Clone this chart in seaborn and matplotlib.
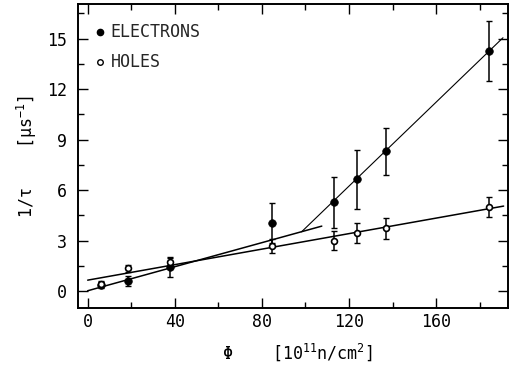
import numpy as np
import pandas as pd
import matplotlib
matplotlib.use("Agg")
import matplotlib.pyplot as plt
import seaborn as sns
from matplotlib.ticker import MultipleLocator

# fluence values [1e11 n/cm2]
fluence_e = [6, 18.5, 38, 84.5, 113, 123.5, 137, 184.5]
fluence_h = [6, 18.5, 38, 84.5, 113, 123.5, 137, 184.5]

# 1/tau [1/us] and errors
inv_tau_e = [0.36, 0.61, 1.45, 4.05, 5.27, 6.63, 8.3, 14.27]
err_e = [0.2, 0.3, 0.6, 1.2, 1.5, 1.75, 1.4, 1.8]
inv_tau_h = [0.45, 1.35, 1.7, 2.67, 2.99, 3.46, 3.72, 5.01]
err_h = [0.15, 0.22, 0.25, 0.42, 0.57, 0.6, 0.6, 0.6]

# fitted straight lines (end points)
fit_e_low_x = [0, 107.5]
fit_e_low_y = [0.02, 3.86]
fit_e_high_x = [98.2, 190.7]
fit_e_high_y = [3.52, 15.05]
fit_h_x = [0, 191]
fit_h_y = [0.65, 5.05]

sns.set_style("ticks")
plt.rcParams["font.family"] = ["DejaVu Sans Mono", "DejaVu Sans"]
plt.rcParams["mathtext.fontset"] = "custom"
plt.rcParams["mathtext.rm"] = "DejaVu Sans Mono"

FS = 12

df_e = pd.DataFrame({"phi": fluence_e, "rate": inv_tau_e})
df_h = pd.DataFrame({"phi": fluence_h, "rate": inv_tau_h})

fig = plt.figure(figsize=(5.09, 3.71), dpi=100)
ax = fig.add_axes([0.153, 0.170, 0.845, 0.819])

# fit lines
for xs, ys, lw in [(fit_e_low_x, fit_e_low_y, 1.1), (fit_e_high_x, fit_e_high_y, 0.8),
                   (fit_h_x, fit_h_y, 1.1)]:
    sns.lineplot(x=xs, y=ys, ax=ax, color="black", linewidth=lw)

# error bars
ax.errorbar(fluence_e, inv_tau_e, yerr=err_e, fmt="none", ecolor="black",
            elinewidth=1.1, capsize=2.5, capthick=1.0)
ax.errorbar(fluence_h, inv_tau_h, yerr=err_h, fmt="none", ecolor="black",
            elinewidth=1.1, capsize=2.5, capthick=1.0)

# markers
sns.scatterplot(data=df_e, x="phi", y="rate", ax=ax, color="black", s=30,
                edgecolor="black", linewidth=0.5, zorder=5)
sns.scatterplot(data=df_h, x="phi", y="rate", ax=ax, facecolor="white", s=18,
                edgecolor="black", linewidth=1.2, zorder=6)

ax.set_xlim(-4.5, 193)
ax.set_ylim(-1.0, 17.05)
ax.xaxis.set_major_locator(MultipleLocator(40))
ax.xaxis.set_minor_locator(MultipleLocator(20))
ax.yaxis.set_major_locator(MultipleLocator(3))
ax.yaxis.set_minor_locator(MultipleLocator(1.5))
ax.tick_params(which="both", direction="in", top=True, right=True,
               labelsize=FS, width=1.0, color="black", labelcolor="black")
ax.tick_params(which="major", length=7)
ax.tick_params(which="minor", length=4)
ax.tick_params(axis="y", pad=8)
ax.tick_params(axis="x", pad=4)
for sp in ax.spines.values():
    sp.set_linewidth(1.4)
    sp.set_color("black")

ax.set_xlabel(r"Φ    [10$^{11}$n/cm$^{2}$]", fontsize=FS, color="black")
ax.set_ylabel(r"1/τ    [μs$^{-1}$]", fontsize=FS, color="black")
ax.xaxis.set_label_coords(0.51, -0.11)
ax.yaxis.set_label_coords(-0.09, 0.5)

# legend drawn as text with markers
ax.plot([0.051], [0.907], "o", transform=ax.transAxes, color="black", markersize=4.5)
ax.text(0.076, 0.907, "ELECTRONS", transform=ax.transAxes, va="center", fontsize=FS)
ax.plot([0.051], [0.808], "o", transform=ax.transAxes, markerfacecolor="white",
        markeredgecolor="black", markersize=4, markeredgewidth=1.0)
ax.text(0.076, 0.808, "HOLES", transform=ax.transAxes, va="center", fontsize=FS)

fig.savefig("out.png", dpi=100)
